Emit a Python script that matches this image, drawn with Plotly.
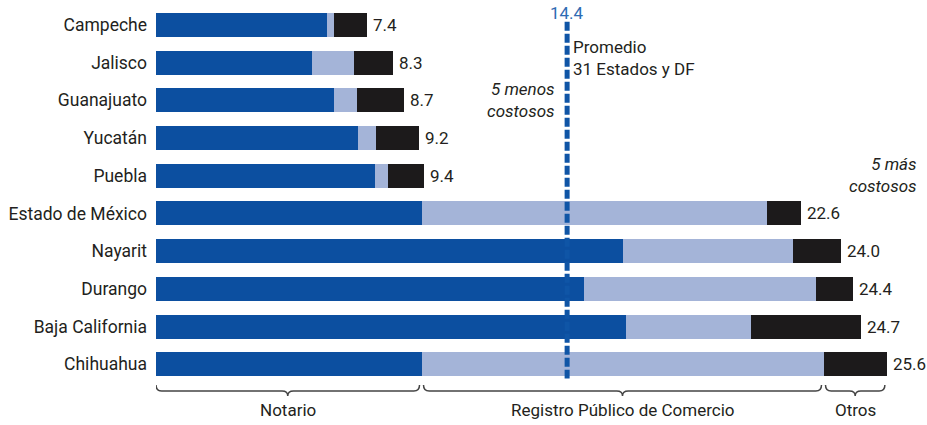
import plotly.graph_objects as go

estados = ["Campeche", "Jalisco", "Guanajuato", "Yucatán", "Puebla",
           "Estado de México", "Nayarit", "Durango", "Baja California", "Chihuahua"]
notario = [6.0, 5.45, 6.25, 7.08, 7.68, 9.3, 16.35, 15.0, 16.45, 9.3]
registro = [0.25, 1.47, 0.8, 0.63, 0.46, 12.1, 5.95, 8.1, 4.4, 14.08]
otros = [1.15, 1.38, 1.65, 1.49, 1.26, 1.2, 1.7, 1.3, 3.85, 2.22]
totales = ["7.4", "8.3", "8.7", "9.2", "9.4", "22.6", "24.0", "24.4", "24.7", "25.6"]
promedio = 14.4
segmentos = ["Notario", "Registro Público de Comercio", "Otros"]

C_NOT = "#0c4fa0"
C_REG = "#a4b4d8"
C_OTR = "#1c1a1b"
TXT = "#231f20"
FONT = "Roboto"
FS = 17

fig = go.Figure()
for name, vals, col in [("Notario", notario, C_NOT),
                        ("Registro", registro, C_REG),
                        ("Otros", otros, C_OTR)]:
    fig.add_trace(go.Bar(y=estados, x=vals, orientation="h", marker_color=col,
                         marker_line_width=0, width=0.64, name=name,
                         showlegend=False, hoverinfo="x+y"))

# total labels
for est, n, r, o, t in zip(estados, notario, registro, otros, totales):
    fig.add_annotation(x=n + r + o, y=est, xref="x", yref="y", text=t,
                       showarrow=False, xanchor="left", xshift=4,
                       font=dict(family=FONT, size=FS, color=TXT))

# average dashed line
fig.add_shape(type="line", xref="x", yref="y", x0=promedio, x1=promedio,
              y0=-0.08, y1=9.38, line=dict(color="#0f55a6", width=5, dash="9px,3px"),
              layer="above")
fig.add_annotation(x=promedio, y=-0.32, xref="x", yref="y", text=f"{promedio}",
                   showarrow=False, yanchor="middle",
                   font=dict(family=FONT, size=FS, color="#2e6bb3"))
fig.add_annotation(x=promedio, y=0.87, xref="x", yref="y", xanchor="left", xshift=4,
                   text="Promedio<br>31 Estados y DF", showarrow=False, align="left",
                   font=dict(family=FONT, size=FS, color=TXT))
fig.add_annotation(x=promedio, y=1.99, xref="x", yref="y", xanchor="right", xshift=-10,
                   text="<i>5 menos<br>costosos</i>", showarrow=False, align="right",
                   font=dict(family=FONT, size=FS, color=TXT))
fig.add_annotation(x=1.0, y=3.98, xref="paper", yref="y", xanchor="right", xshift=-1,
                   text="<i>5 más<br>costosos</i>", showarrow=False, align="right",
                   font=dict(family=FONT, size=FS, color=TXT))

# brackets under last bar
last = len(estados) - 1
bounds = [0, notario[last], notario[last] + registro[last],
          notario[last] + registro[last] + otros[last]]
ytop, ymid, ytip = 9.55, 9.71, 9.84
for i, lab in enumerate(segmentos):
    a = bounds[i] + (0.07 if i > 0 else 0)
    b = bounds[i + 1] - 0.07
    m = (a + b) / 2
    path = (f"M {a},{ytop} Q {a},{ymid} {a+0.2},{ymid} L {m-0.2},{ymid} "
            f"Q {m},{ymid} {m},{ytip} Q {m},{ymid} {m+0.2},{ymid} "
            f"L {b-0.2},{ymid} Q {b},{ymid} {b},{ytop}")
    fig.add_shape(type="path", path=path, xref="x", yref="y",
                  line=dict(color="#444", width=1.5))
    fig.add_annotation(x=m, y=10.21, xref="x", yref="y", text=lab, showarrow=False,
                       font=dict(family=FONT, size=FS, color=TXT))

fig.update_layout(
    width=927, height=425, barmode="stack",
    paper_bgcolor="white", plot_bgcolor="white",
    margin=dict(l=156, r=7, t=6, b=0, autoexpand=False),
    font=dict(family=FONT, size=FS, color=TXT),
)
fig.update_xaxes(range=[0, 26.76], visible=False, showgrid=False, zeroline=False)
fig.update_yaxes(type="category", range=[10.61, -0.5], showgrid=False, zeroline=False,
                 ticks="", showline=False, ticklabelstandoff=8,
                 tickfont=dict(family=FONT, size=17.5, color=TXT))

fig.write_html("out.html", config={"displayModeBar": False},
               post_script="document.body.style.margin='0';")
